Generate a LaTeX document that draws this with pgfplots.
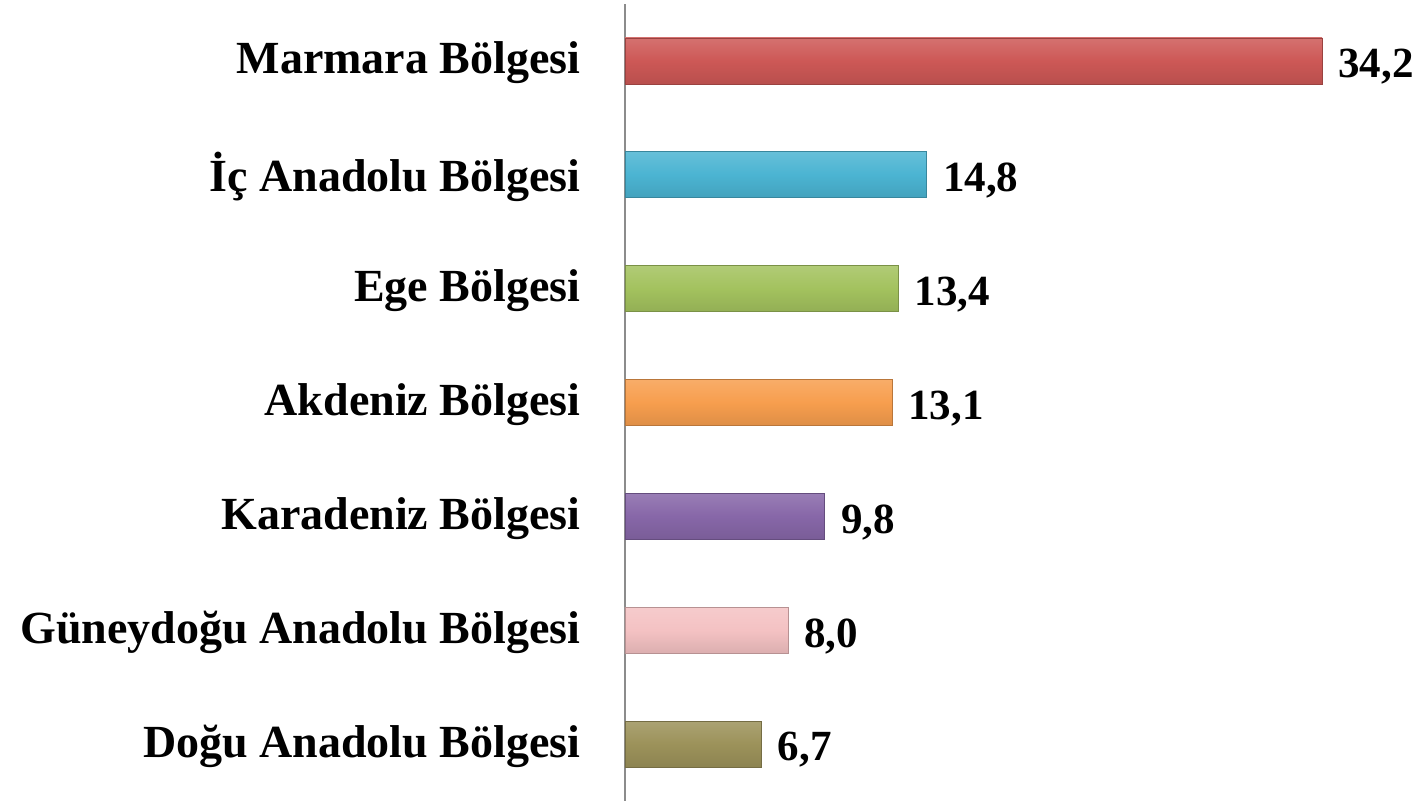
\documentclass[border=0pt]{standalone}
\usepackage{pgfplots}
\pgfplotsset{compat=1.18}
\usepackage{fontspec}
\setmainfont{Liberation Serif}
\definecolor{cMar}{HTML}{CD5856}
\definecolor{cIc}{HTML}{4BB4D2}
\definecolor{cEge}{HTML}{A3C25E}
\definecolor{cAkd}{HTML}{F79E4E}
\definecolor{cKar}{HTML}{8767A8}
\definecolor{cGun}{HTML}{F4C2C3}
\definecolor{cDog}{HTML}{9C925A}
\begin{document}
\begin{tikzpicture}
\path[use as bounding box] (0,0) rectangle (712.5pt,400.5pt);
\begin{axis}[
  at={(312.5pt,0pt)}, anchor=south west,
  scale only axis, width=400pt, height=398.5pt,
  xbar, bar width=23pt, bar shift=0pt,
  xmin=0, xmax=39.25, ymin=-0.5, ymax=6.5, y dir=reverse,
  axis x line=none, axis y line=left,
  axis line style={-, draw=gray!90, line width=0.8pt},
  ytick={0,1,2,3,4,5,6},
  yticklabels={Marmara Bölgesi, İç Anadolu Bölgesi, Ege Bölgesi, Akdeniz Bölgesi, Karadeniz Bölgesi, Güneydoğu Anadolu Bölgesi, Doğu Anadolu Bölgesi},
  ytick style={draw=none},
  yticklabel style={font=\bfseries\fontsize{23}{27}\selectfont, inner sep=0pt, anchor=east, xshift=-20pt, yshift=-1pt},
  point meta=explicit symbolic,
  nodes near coords,
  nodes near coords style={font=\bfseries\fontsize{21.5}{25}\selectfont, inner sep=0pt, anchor=west, xshift=8pt, yshift=-3pt},
  clip=false,
]
\addplot[draw=cMar!75!black, top color=cMar!85!white, bottom color=cMar!90!black, middle color=cMar] coordinates {(34.2,0) [34,2]};
\addplot[draw=cIc!75!black, top color=cIc!85!white, bottom color=cIc!90!black, middle color=cIc] coordinates {(14.8,1) [14,8]};
\addplot[draw=cEge!75!black, top color=cEge!85!white, bottom color=cEge!90!black, middle color=cEge] coordinates {(13.4,2) [13,4]};
\addplot[draw=cAkd!75!black, top color=cAkd!85!white, bottom color=cAkd!90!black, middle color=cAkd] coordinates {(13.1,3) [13,1]};
\addplot[draw=cKar!75!black, top color=cKar!85!white, bottom color=cKar!90!black, middle color=cKar] coordinates {(9.8,4) [9,8]};
\addplot[draw=cGun!75!black, top color=cGun!85!white, bottom color=cGun!90!black, middle color=cGun] coordinates {(8.0,5) [8,0]};
\addplot[draw=cDog!75!black, top color=cDog!85!white, bottom color=cDog!90!black, middle color=cDog] coordinates {(6.7,6) [6,7]};
\end{axis}
\end{tikzpicture}
\end{document}
